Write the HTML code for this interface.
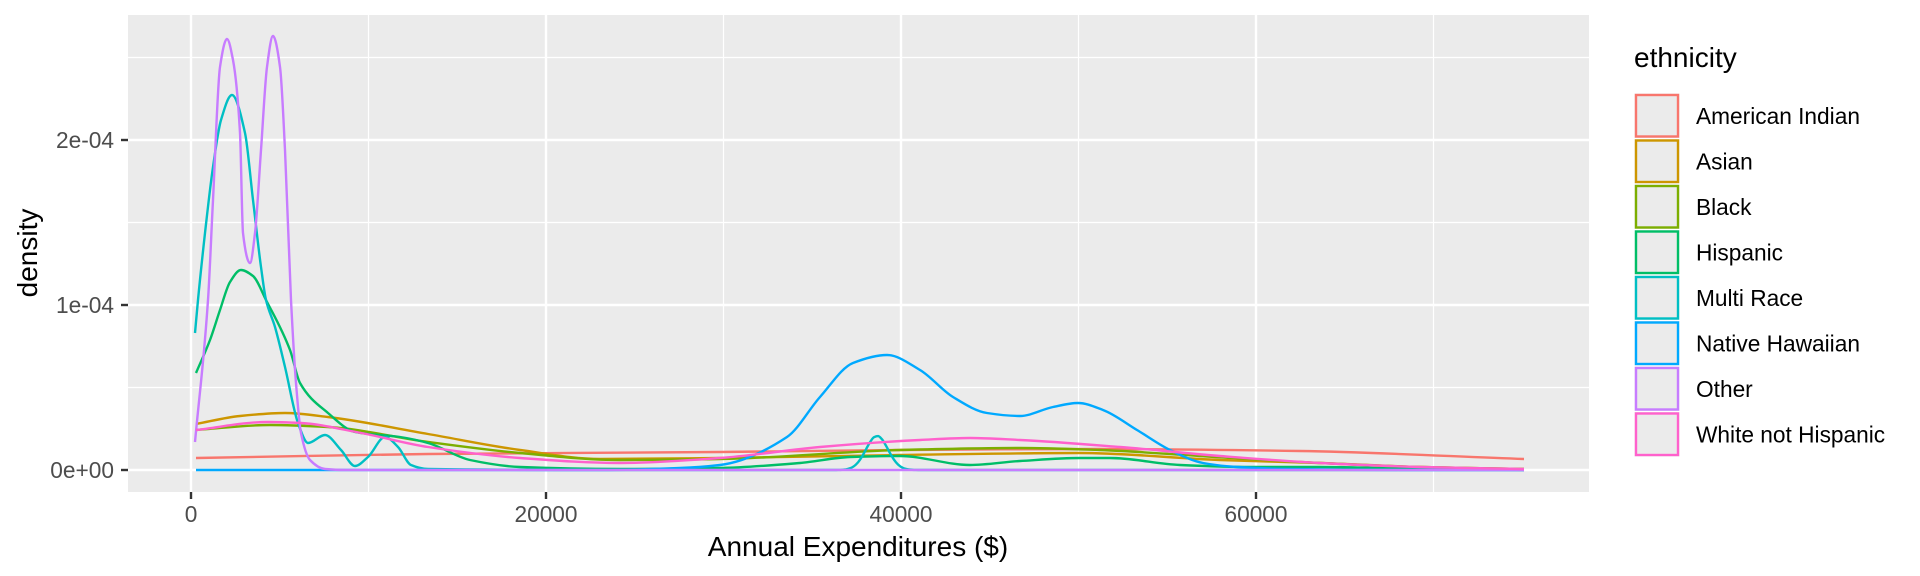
<!DOCTYPE html>
<html><head><meta charset="utf-8"><style>
html,body{margin:0;padding:0;background:#fff;}
svg{display:block;font-family:"Liberation Sans",Arial,sans-serif;}
</style></head><body>
<svg id="s" width="1920" height="576" viewBox="0 0 1920 576" xmlns="http://www.w3.org/2000/svg">
<rect x="0" y="0" width="1920" height="576" fill="#fff"/>
<rect x="128" y="15" width="1461" height="477" fill="#EBEBEB"/>
<g stroke="#fff" stroke-width="1.2">
<line x1="368.5" y1="15" x2="368.5" y2="492"/><line x1="723.5" y1="15" x2="723.5" y2="492"/>
<line x1="1078.5" y1="15" x2="1078.5" y2="492"/><line x1="1433.5" y1="15" x2="1433.5" y2="492"/>
<line x1="128" y1="387.5" x2="1589" y2="387.5"/><line x1="128" y1="222.5" x2="1589" y2="222.5"/><line x1="128" y1="57.5" x2="1589" y2="57.5"/>
</g>
<g stroke="#fff" stroke-width="2.4">
<line x1="191" y1="15" x2="191" y2="492"/><line x1="546" y1="15" x2="546" y2="492"/>
<line x1="901" y1="15" x2="901" y2="492"/><line x1="1256" y1="15" x2="1256" y2="492"/>
<line x1="128" y1="470" x2="1589" y2="470"/><line x1="128" y1="305" x2="1589" y2="305"/><line x1="128" y1="140" x2="1589" y2="140"/>
</g>
<g id="curves" fill="none" stroke-width="2.4" stroke-linejoin="round" stroke-linecap="butt"></g>
<g stroke="#333" stroke-width="2.4">
<line x1="121" y1="470" x2="128" y2="470"/><line x1="121" y1="305" x2="128" y2="305"/><line x1="121" y1="140" x2="128" y2="140"/>
<line x1="191" y1="492" x2="191" y2="499"/><line x1="546" y1="492" x2="546" y2="499"/><line x1="901" y1="492" x2="901" y2="499"/><line x1="1256" y1="492" x2="1256" y2="499"/>
</g>
<g fill="#4D4D4D" font-size="22.7">
<text x="114" y="478" text-anchor="end">0e+00</text>
<text x="114" y="313" text-anchor="end">1e-04</text>
<text x="114" y="148" text-anchor="end">2e-04</text>
<text x="191" y="522" text-anchor="middle">0</text>
<text x="546" y="522" text-anchor="middle">20000</text>
<text x="901" y="522" text-anchor="middle">40000</text>
<text x="1256" y="522" text-anchor="middle">60000</text>
</g>
<text x="858" y="556" text-anchor="middle" font-size="28" fill="#000">Annual Expenditures ($)</text>
<text transform="translate(37,253) rotate(-90)" text-anchor="middle" font-size="28" fill="#000">density</text>
<text x="1634" y="67" font-size="28" fill="#000">ethnicity</text>
<g id="legend"></g>
</svg>
<script>
var NS="http://www.w3.org/2000/svg";
var teal=[[195,333],[198,300],[205,233],[213,167],[221,120],[232,95],[245,133],[253,200],[261,267],[266,300],[275,327],[285,367],[298,423],[308,443],[325,435],[341,450],[355,466],[368,457],[385,437],[398,447],[411,465],[428,469],[600,470],[820,470]];
for(var xx=830;xx<=925;xx+=4){teal.push([xx,470-34*Math.exp(-Math.pow(xx-877,2)/(2*11*11))]);}
teal.push([1000,470],[1524,470]);
var series=[
["American Indian","#F8766D",[[196,458],[428,454],[720,452],[900,450],[1100,449],[1300,451],[1524,459]]],
["Asian","#CD9600",[[196,424],[240,416],[285,413],[328,417],[428,434],[520,450],[600,459],[720,458],[900,455],[1080,453],[1220,460],[1320,463],[1420,467],[1524,469]]],
["Black","#7CAE00",[[196,430],[270,425],[328,427],[428,442],[520,453],[620,460],[720,459],[900,450],[1020,448],[1100,450],[1200,456],[1300,462],[1420,467],[1524,469]]],
["Hispanic","#00BE67",[[196,373],[210,340],[220,310],[230,282],[241,270],[253,276],[266,300],[290,350],[300,383],[328,413],[355,432],[400,437],[428,443],[470,460],[520,467],[620,469],[720,468],[800,463],[850,457],[900,456],[970,465],[1020,461],[1080,458],[1110,458],[1180,465],[1250,467],[1320,467],[1420,469],[1524,470]]],
["Multi Race","#00BFC4",teal],
["Native Hawaiian","#00A9FF",[[196,470],[600,470],[680,468],[720,465],[787,437],[820,397],[853,363],[887,355],[920,370],[953,397],[987,413],[1020,416],[1053,407],[1078,403],[1103,410],[1137,430],[1170,450],[1203,463],[1237,467],[1287,469],[1400,470],[1524,470]]],
["Other","#C77CFF",[[195,442],[208,300],[213,200],[220,67],[227,39],[233,60],[240,133],[243,233],[250,263],[255,233],[261,150],[267,67],[273,36],[280,67],[285,150],[291,300],[296,383],[301,433],[310,460],[325,469],[345,470],[1524,470]]],
["White not Hispanic","#FF61CC",[[196,430],[268,422],[301,423],[361,433],[428,447],[520,458],[620,463],[720,458],[820,447],[920,440],[970,438],[1020,440],[1120,447],[1220,456],[1320,463],[1420,467],[1524,469]]]
];
function mono(p){
 var n=p.length,dx=[],m=[],t=[];
 for(var i=0;i<n-1;i++){dx[i]=p[i+1][0]-p[i][0];m[i]=(p[i+1][1]-p[i][1])/dx[i];}
 t[0]=m[0];t[n-1]=m[n-2];
 for(var i=1;i<n-1;i++){
  if(m[i-1]*m[i]<=0)t[i]=0;
  else{var w1=2*dx[i]+dx[i-1],w2=dx[i]+2*dx[i-1];t[i]=(w1+w2)/(w1/m[i-1]+w2/m[i]);}
 }
 var d="M"+p[0][0]+","+p[0][1].toFixed(1);
 for(var i=0;i<n-1;i++){
  var h=dx[i]/3;
  d+=" C"+(p[i][0]+h).toFixed(1)+","+(p[i][1]+t[i]*h).toFixed(1)+" "+(p[i+1][0]-h).toFixed(1)+","+(p[i+1][1]-t[i+1]*h).toFixed(1)+" "+p[i+1][0]+","+p[i+1][1].toFixed(1);
 }
 return d;
}
var g=document.getElementById("curves"),lg=document.getElementById("legend");
series.forEach(function(s,i){
 var pth=document.createElementNS(NS,"path");
 pth.setAttribute("d",mono(s[2]));pth.setAttribute("stroke",s[1]);g.appendChild(pth);
 var y=93+i*45.5;
 var r=document.createElementNS(NS,"rect");
 r.setAttribute("x",1634);r.setAttribute("y",y);r.setAttribute("width",46);r.setAttribute("height",45.5);r.setAttribute("fill","#EBEBEB");r.setAttribute("stroke","#fff");r.setAttribute("stroke-width","1");lg.appendChild(r);
 var r2=document.createElementNS(NS,"rect");
 r2.setAttribute("x",1636);r2.setAttribute("y",y+2);r2.setAttribute("width",42);r2.setAttribute("height",41.5);r2.setAttribute("fill","none");r2.setAttribute("stroke",s[1]);r2.setAttribute("stroke-width","2.4");lg.appendChild(r2);
 var t=document.createElementNS(NS,"text");
 t.setAttribute("x",1696);t.setAttribute("y",y+31);t.setAttribute("font-size","22.7");t.setAttribute("fill","#000");t.textContent=s[0];lg.appendChild(t);
});
</script>
</body></html>
